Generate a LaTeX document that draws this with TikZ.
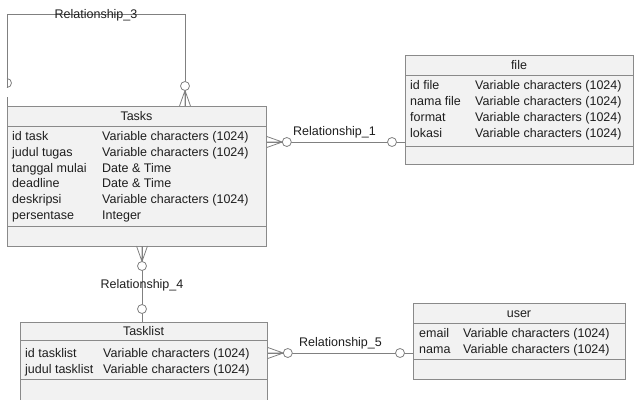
\documentclass[tikz,border=0pt]{standalone}
\usepackage{fontspec}
\setmainfont{Liberation Sans}
\usetikzlibrary{calc}
\definecolor{relgray}{HTML}{808080}
\definecolor{boxgray}{HTML}{8A8A8A}
\definecolor{boxfill}{HTML}{F2F2F2}
\definecolor{ink}{HTML}{1E1E1E}
\tikzset{
  x=1pt, y=-1pt,
  every node/.style={font=\fontsize{12.5}{14}\selectfont, text=ink, inner sep=0pt},
  entity/.style={draw=boxgray, fill=boxfill, line width=0.8pt, anchor=north west, minimum width=#1},
  sep/.style={draw=boxgray, line width=0.8pt},
  rel/.style={draw=relgray, line width=0.8pt},
  attr/.style={anchor=base west},
  title/.style={anchor=base},
  rellabel/.style={anchor=base},
  % crow's foot with optional circle; origin on the entity border, line along +x
  manyopt/.pic={
    \draw[rel] (0,5.5) -- (15.5,0) (0,-5.5) -- (15.5,0) (0,0) -- (15.5,0);
    \draw[rel, fill=white] (20,0) circle[radius=4.5];
  },
  % single optional circle; origin on the entity border, line along +x
  oneopt/.pic={
    \draw[rel, fill=white] (13,0) circle[radius=4.5];
  }
}
\begin{document}
\begin{tikzpicture}
\useasboundingbox (0,0) rectangle (634,399);

% ---------- Tasks ----------
\node[entity=259pt, minimum height=140pt] (tasks) at (7,106) {};
\draw[sep] (7,126) -- (266,126) (7,226) -- (266,226);
\node[title] (tasksT) at (136.5,120.5) {Tasks};
\foreach \n/\t [count=\i from 0] in {id task/Variable characters (1024),
    judul tugas/Variable characters (1024),
    tanggal mulai/Date \& Time,
    deadline/Date \& Time,
    deskripsi/Variable characters (1024),
    persentase/Integer}{
  \node[attr] (tasksN\i) at (12,140.5+15.8*\i) {\n};
  \node[attr] (tasksV\i) at (102,140.5+15.8*\i) {\t};
}

% ---------- file ----------
\node[entity=228pt, minimum height=109pt] (file) at (405,55) {};
\draw[sep] (405,75) -- (633,75) (405,146) -- (633,146);
\node[title] (fileT) at (519,69.5) {file};
\foreach \n [count=\i from 0] in {id file, nama file, format, lokasi}{
  \node[attr] (fileN\i) at (410,89.5+16*\i) {\n};
  \node[attr] (fileV\i) at (475,89.5+16*\i) {Variable characters (1024)};
}

% ---------- Tasklist ----------
\node[entity=247pt, minimum height=80pt] (tasklist) at (20,322) {};
\draw[sep] (20,340) -- (267,340) (20,379) -- (267,379);
\node[title] (tasklistT) at (143.5,335.5) {Tasklist};
\foreach \n [count=\i from 0] in {id tasklist, judul tasklist}{
  \node[attr] (tasklistN\i) at (25,357.5+15.5*\i) {\n};
  \node[attr] (tasklistV\i) at (103,357.5+15.5*\i) {Variable characters (1024)};
}

% ---------- user ----------
\node[entity=212pt, minimum height=76pt] (user) at (413,303) {};
\draw[sep] (413,323) -- (625,323) (413,359) -- (625,359);
\node[title] (userT) at (519,317.5) {user};
\foreach \n [count=\i from 0] in {email, nama}{
  \node[attr] (userN\i) at (419,337.5+16*\i) {\n};
  \node[attr] (userV\i) at (463,337.5+16*\i) {Variable characters (1024)};
}

% ---------- Relationship_3 (Tasks to itself) ----------
\coordinate (r3a) at (tasks.north west);
\coordinate (r3b) at (185,106);
\draw[rel] (r3a) -- (7,14) -- (185,14) -- (r3b);
\draw[draw=white, line width=1.2pt] ($(r3a)+(0,-9.5)$) -- ++(0,-9);
\draw[rel] ($(r3a)+(0,-18.5)$) arc[start angle=90, end angle=-90, radius=4.5];
\pic[rotate=90] at (r3b) {manyopt};
\node[rellabel] (rel3) at (96,18.5) {Relationship\_3};

% ---------- Relationship_1 (Tasks - file) ----------
\coordinate (r1a) at (tasks.east |- 0,142);
\coordinate (r1b) at (file.west |- 0,142);
\draw[rel] (r1a) -- (r1b);
\pic at (r1a) {manyopt};
\pic[rotate=180] at (r1b) {oneopt};
\node[rellabel] (rel1) at (334.5,135.5) {Relationship\_1};

% ---------- Relationship_4 (Tasks - Tasklist) ----------
\coordinate (r4a) at (142,246);
\coordinate (r4b) at (142,322);
\draw[rel] (r4a) -- (r4b);
\pic[rotate=-90] at (r4a) {manyopt};
\pic[rotate=90] at (r4b) {oneopt};
\node[rellabel] (rel4) at (142,288.5) {Relationship\_4};

% ---------- Relationship_5 (Tasklist - user) ----------
\coordinate (r5a) at (tasklist.east |- 0,353);
\coordinate (r5b) at (user.west |- 0,353);
\draw[rel] (r5a) -- (r5b);
\pic at (r5a) {manyopt};
\pic[rotate=180] at (r5b) {oneopt};
\node[rellabel] (rel5) at (340.5,346.5) {Relationship\_5};
\end{tikzpicture}
\end{document}
